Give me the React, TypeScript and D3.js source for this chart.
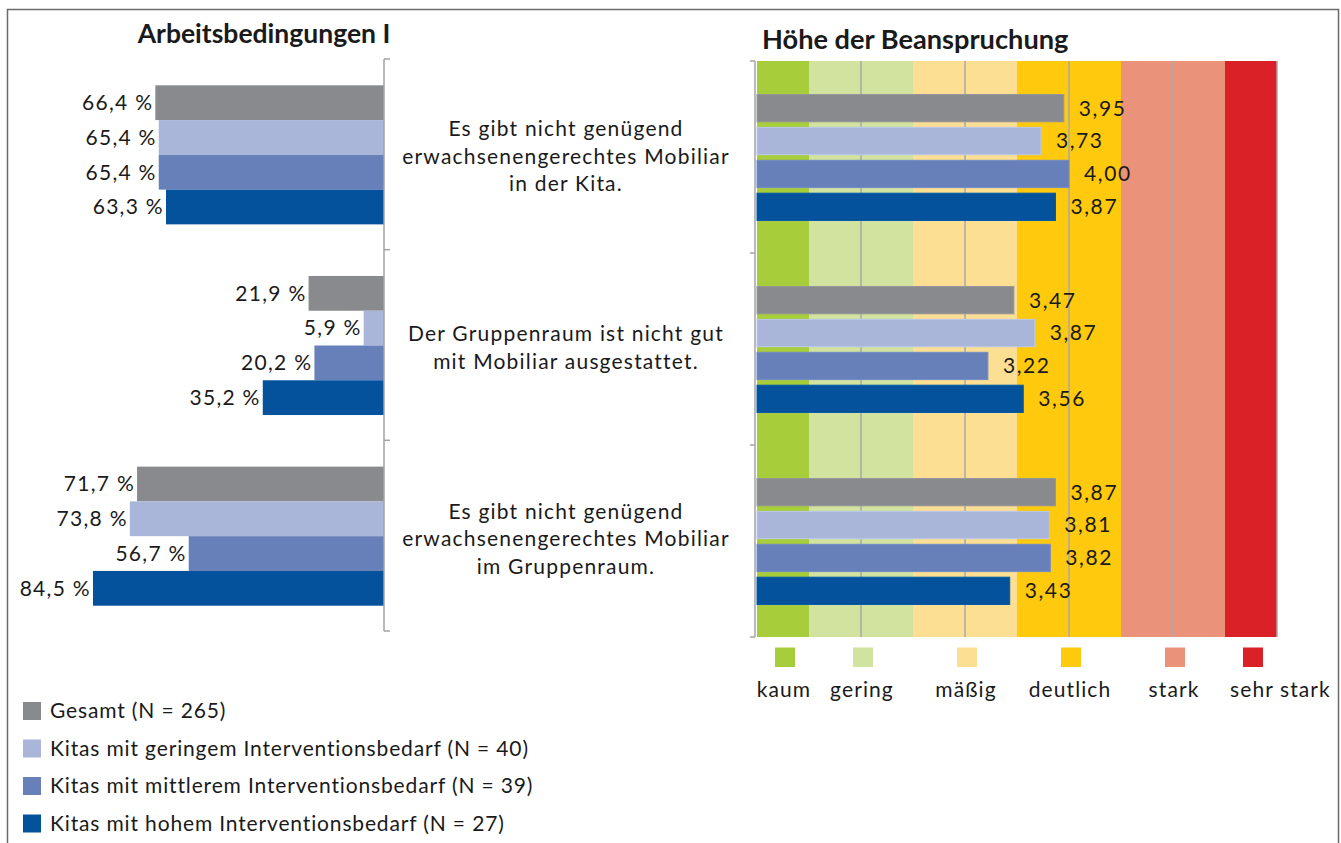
import React from "react";
import * as d3 from "d3";

// ---------- data ----------
const categories: string[][] = [
  ["Es gibt nicht genügend", "erwachsenengerechtes Mobiliar", "in der Kita."],
  ["Der Gruppenraum ist nicht gut", "mit Mobiliar ausgestattet."],
  ["Es gibt nicht genügend", "erwachsenengerechtes Mobiliar", "im Gruppenraum."],
];
const seriesNames = [
  "Gesamt (N = 265)",
  "Kitas mit geringem Interventionsbedarf (N = 40)",
  "Kitas mit mittlerem Interventionsbedarf (N = 39)",
  "Kitas mit hohem Interventionsbedarf (N = 27)",
];
const seriesColors = ["#898a8e", "#a9b6d9", "#6780b9", "#04529c"];
const percentValues: number[][] = [
  [66.4, 65.4, 65.4, 63.3],
  [21.9, 5.9, 20.2, 35.2],
  [71.7, 73.8, 56.7, 84.5],
];
// bar lengths as drawn in the reference
const strainValues: number[][] = [
  [3.95, 3.73, 4.0, 3.87],
  [3.47, 3.67, 3.22, 3.56],
  [3.87, 3.81, 3.82, 3.43],
];
// value labels as printed in the reference
const strainLabels: string[][] = [
  ["3,95", "3,73", "4,00", "3,87"],
  ["3,47", "3,87", "3,22", "3,56"],
  ["3,87", "3,81", "3,82", "3,43"],
];
const levelNames = ["kaum", "gering", "mäßig", "deutlich", "stark", "sehr stark"];
const levelColors = ["#a8cd3a", "#d1e39f", "#fddf93", "#ffc90d", "#ea937a", "#da2128"];
const levelBounds = [1, 1.5, 2.5, 3.5, 4.5, 5.5, 6];
const gridTicks = [2, 3, 4, 5, 6];
const leftTitle = "Arbeitsbedingungen I";
const rightTitle = "Höhe der Beanspruchung";

// ---------- layout ----------
const W = 1341;
const H = 843;
const FONT = "Lato, 'DejaVu Sans', sans-serif";

const de = d3.formatLocale({ decimal: ",", thousands: ".", grouping: [3], currency: ["", " €"] });
const fmtPct = (v: number) => de.format(".1f")(v) + " %";

export default function App() {
  const catIdx = categories.map((_, i) => i);
  const serIdx = seriesNames.map((_, i) => i);

  // left chart
  const xL = d3.scaleLinear().domain([0, 100]).range([384, 39.6]);
  const yL = d3.scaleBand<number>().domain(catIdx).range([59, 631]);
  const yLi = d3
    .scaleBand<number>()
    .domain(serIdx)
    .range([26.3, yL.bandwidth() - 25.3]);

  // right chart
  const xR = d3.scaleLinear().domain([1, 6]).range([757, 1277]);
  const yR = d3.scaleBand<number>().domain(catIdx).range([61, 637]);
  const yRi = d3
    .scaleBand<number>()
    .domain(serIdx)
    .range([33.5, yR.bandwidth() - 32.5])
    .paddingInner(0.17);

  const axisColor = "#a3a3a3";
  const textColor = "#1a1a1a";
  const fs = 21;

  const leftTicks = [...catIdx.map((i) => yL(i)!), 631];
  const rightTicks = [...catIdx.map((i) => yR(i)!), 637];

  return (
    <svg
      width={W}
      height={H}
      style={{ position: "absolute", left: 0, top: 0, background: "#fff" }}
      fontFamily={FONT}
    >
      {/* frame */}
      <rect x={7.5} y={9.5} width={1331} height={900} fill="none" stroke="#6a6a6a" strokeWidth={1.5} />

      {/* titles */}
      <text x={264} y={43} textAnchor="middle" fontSize={26.5} fontWeight={700} fill={textColor}>
        {leftTitle}
      </text>
      <text x={762} y={49} textAnchor="start" fontSize={27.2} fontWeight={700} fill={textColor}>
        {rightTitle}
      </text>

      {/* left bars */}
      {catIdx.map((c) =>
        serIdx.map((s) => {
          const v = percentValues[c][s];
          const y = yL(c)! + yLi(s)!;
          return (
            <g key={`l${c}-${s}`}>
              <rect x={xL(v)} y={y} width={xL(0) - xL(v)} height={yLi.bandwidth()} fill={seriesColors[s]} />
              <text
                x={xL(v) - 2}
                y={y + yLi.bandwidth() / 2}
                dy="0.35em"
                textAnchor="end"
                fontSize={fs}
                letterSpacing={1.3}
                fill={textColor}
              >
                {fmtPct(v)}
              </text>
            </g>
          );
        })
      )}

      {/* left axis */}
      <line x1={384} x2={384} y1={59} y2={631} stroke={axisColor} strokeWidth={1.5} />
      {leftTicks.map((t, i) => (
        <line key={`lt${i}`} x1={384} x2={390} y1={t} y2={t} stroke={axisColor} strokeWidth={1.5} />
      ))}

      {/* category labels */}
      {categories.map((lines, c) => {
        const cy = (yL(c)! + yL.bandwidth() / 2 + yR(c)! + yR.bandwidth() / 2) / 2 + 0.5;
        const lh = 27.5;
        const y0 = cy - ((lines.length - 1) * lh) / 2;
        return (
          <text key={`c${c}`} textAnchor="middle" fontSize={fs} letterSpacing={1.2} fill={textColor}>
            {lines.map((ln, k) => (
              <tspan key={k} x={566} y={y0 + k * lh} dy="0.35em">
                {ln}
              </tspan>
            ))}
          </text>
        );
      })}

      {/* right background bands */}
      {levelNames.map((n, i) => (
        <rect
          key={`b${i}`}
          x={xR(levelBounds[i])}
          y={61}
          width={xR(levelBounds[i + 1]) - xR(levelBounds[i])}
          height={637 - 61}
          fill={levelColors[i]}
        />
      ))}
      {gridTicks.map((t) => (
        <line key={`g${t}`} x1={xR(t)} x2={xR(t)} y1={61} y2={637} stroke="#a9a9a9" strokeWidth={1.5} />
      ))}

      {/* right bars */}
      {catIdx.map((c) =>
        serIdx.map((s) => {
          const v = strainValues[c][s];
          const y = yR(c)! + yRi(s)!;
          const stroke = d3.color(seriesColors[s])!.brighter(0.25).formatHex();
          return (
            <g key={`r${c}-${s}`}>
              <rect
                x={xR(1)}
                y={y}
                width={xR(v) - xR(1)}
                height={yRi.bandwidth()}
                fill={seriesColors[s]}
                stroke={stroke}
                strokeWidth={1}
              />
              <text
                x={xR(v) + 15}
                y={y + yRi.bandwidth() / 2}
                dy="0.35em"
                textAnchor="start"
                fontSize={fs}
                letterSpacing={1.6}
                fill={textColor}
              >
                {strainLabels[c][s]}
              </text>
            </g>
          );
        })
      )}

      {/* right axis */}
      <line x1={755} x2={755} y1={61} y2={637} stroke={axisColor} strokeWidth={1.5} />
      {rightTicks.map((t, i) => (
        <line key={`rt${i}`} x1={750} x2={755} y1={t} y2={t} stroke={axisColor} strokeWidth={1.5} />
      ))}

      {/* right legend */}
      {levelNames.map((n, i) => {
        const cx = (xR(levelBounds[i]) + xR(levelBounds[i + 1])) / 2 + 2;
        const last = i === levelNames.length - 1;
        return (
          <g key={`lv${i}`}>
            <rect x={cx - 10} y={647.5} width={20} height={19.5} fill={levelColors[i]} />
            <text
              x={last ? xR(levelBounds[i]) + 5 : cx - 1}
              y={697}
              textAnchor={last ? "start" : "middle"}
              fontSize={fs}
              letterSpacing={1.1}
              fill={textColor}
            >
              {n}
            </text>
          </g>
        );
      })}

      {/* series legend */}
      {seriesNames.map((n, i) => {
        const cy = 711 + i * 37.5;
        return (
          <g key={`sl${i}`}>
            <rect x={23} y={cy - 9} width={18} height={18} fill={seriesColors[i]} />
            <text x={50} y={cy} dy="0.35em" fontSize={fs} letterSpacing={0.85} fill={textColor}>
              {n}
            </text>
          </g>
        );
      })}
    </svg>
  );
}
